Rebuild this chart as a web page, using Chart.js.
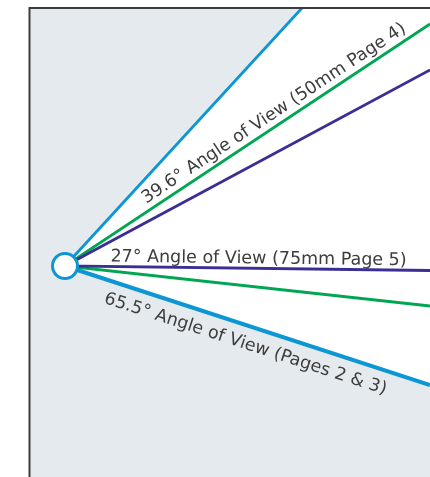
<!DOCTYPE html>
<html>
<head>
<meta charset="utf-8">
<script src="https://cdn.jsdelivr.net/npm/chart.js@4/dist/chart.umd.min.js"></script>
<style>
  html, body { margin: 0; padding: 0; background: #fff; }
  #wrap { width: 430px; height: 477px; position: relative; }
</style>
</head>
<body>
<div id="wrap"><canvas id="fov"></canvas></div>
<script>
// viewpoint is at (0,0); rays end on the panel edge
var fovLabels = ["65.5° Angle of View (Pages 2 & 3)", "39.6° Angle of View (50mm Page 4)", "27° Angle of View (75mm Page 5)"];
var upperX = [237, 365, 365];
var upperY = [258, 242, 196];
var lowerX = [365, 365, 365];
var lowerY = [-119, -40, -4.5];
var xMin = -35, xMax = 365, yMin = -211, yMax = 258;

var colors = ["#0c96d2", "#00a651", "#3b2e94"];
var upperWidth = [2.8, 2.8, 2.8];
var lowerWidth = [4, 2.8, 2.8];

var datasets = [];

// white field between the widest rays
datasets.push({
    data: [{x: 0, y: 0}, {x: upperX[0], y: upperY[0]}, {x: xMax, y: yMax}, {x: lowerX[0], y: lowerY[0]}, {x: 0, y: 0}],
    showLine: true,
    fill: 'shape',
    backgroundColor: '#ffffff',
    borderWidth: 0,
    borderColor: 'rgba(0,0,0,0)',
    pointRadius: 0,
    order: 10
});

for (var i = 0; i < fovLabels.length; i++) {
    (function(i) {
        datasets.push({
            data: [{x: upperX[i], y: upperY[i]}, {x: 0, y: 0}, {x: lowerX[i], y: lowerY[i]}],
            showLine: true,
            fill: false,
            borderColor: colors[i],
            borderWidth: upperWidth[i],
            segment: {
                borderWidth: function(ctx) { return ctx.p0DataIndex === 0 ? upperWidth[i] : lowerWidth[i]; }
            },
            pointRadius: 0,
            order: 5 - i
        });
    })(i);
}

// the eye
datasets.push({
    data: [{x: 0, y: 0}],
    pointRadius: 12.5,
    pointBackgroundColor: '#ffffff',
    pointBorderColor: colors[0],
    pointBorderWidth: 3,
    order: 0
});

var panelPlugin = {
    id: 'panel',
    beforeDraw: function(chart) {
        var a = chart.chartArea, c = chart.ctx;
        c.save();
        c.fillStyle = '#e5eaee';
        c.fillRect(a.left, a.top, a.right - a.left, a.bottom - a.top);
        c.restore();
    },
    afterDraw: function(chart) {
        var a = chart.chartArea, c = chart.ctx;
        c.save();
        c.strokeStyle = '#3c3c3c';
        c.lineWidth = 2;
        c.beginPath();
        c.moveTo(a.left - 0.5, a.bottom);
        c.lineTo(a.left - 0.5, a.top);
        c.lineTo(a.right, a.top);
        c.stroke();
        c.restore();
    }
};

// labels laid along a ray: t = position along ray, off = px away from it
var rayLabelPlugin = {
    id: 'rayLabels',
    afterDatasetsDraw: function(chart, args, opts) {
        var c = chart.ctx, xs = chart.scales.x, ys = chart.scales.y;
        var ox = xs.getPixelForValue(0), oy = ys.getPixelForValue(0);
        opts.items.forEach(function(it) {
            var ex, ey;
            if (it.side === 'upper') {
                ex = xs.getPixelForValue(upperX[it.ray]); ey = ys.getPixelForValue(upperY[it.ray]);
            } else {
                ex = xs.getPixelForValue(lowerX[it.ray]); ey = ys.getPixelForValue(lowerY[it.ray]);
            }
            var ang = Math.atan2(ey - oy, ex - ox);
            var px = ox + (ex - ox) * it.t, py = oy + (ey - oy) * it.t;
            // normal pointing "below" the ray
            px += -Math.sin(ang) * it.off;
            py += Math.cos(ang) * it.off;
            c.save();
            c.translate(px, py);
            c.rotate(ang);
            c.font = opts.font;
            c.fillStyle = opts.color;
            c.textAlign = 'center';
            c.textBaseline = 'alphabetic';
            c.fillText(fovLabels[it.label], 0, 0);
            c.restore();
        });
    }
};

new Chart(document.getElementById('fov'), {
    type: 'scatter',
    data: { datasets: datasets },
    options: {
        responsive: true,
        maintainAspectRatio: false,
        animation: false,
        events: [],
        layout: { autoPadding: false, padding: { left: 30, top: 8, right: 0, bottom: 0 } },
        scales: {
            x: { type: 'linear', min: xMin, max: xMax, display: false },
            y: { type: 'linear', min: yMin, max: yMax, display: false }
        },
        plugins: {
            legend: { display: false },
            tooltip: { enabled: false },
            rayLabels: {
                font: '17.5px "DejaVu Sans"',
                color: '#3d3d3d',
                items: [
                    { label: 0, ray: 0, side: 'lower', t: 0.51, off: 23 },
                    { label: 1, ray: 1, side: 'upper', t: 0.59, off: -7 },
                    { label: 2, ray: 2, side: 'lower', t: 0.53, off: -5 }
                ]
            }
        }
    },
    plugins: [panelPlugin, rayLabelPlugin]
});
</script>
</body>
</html>
